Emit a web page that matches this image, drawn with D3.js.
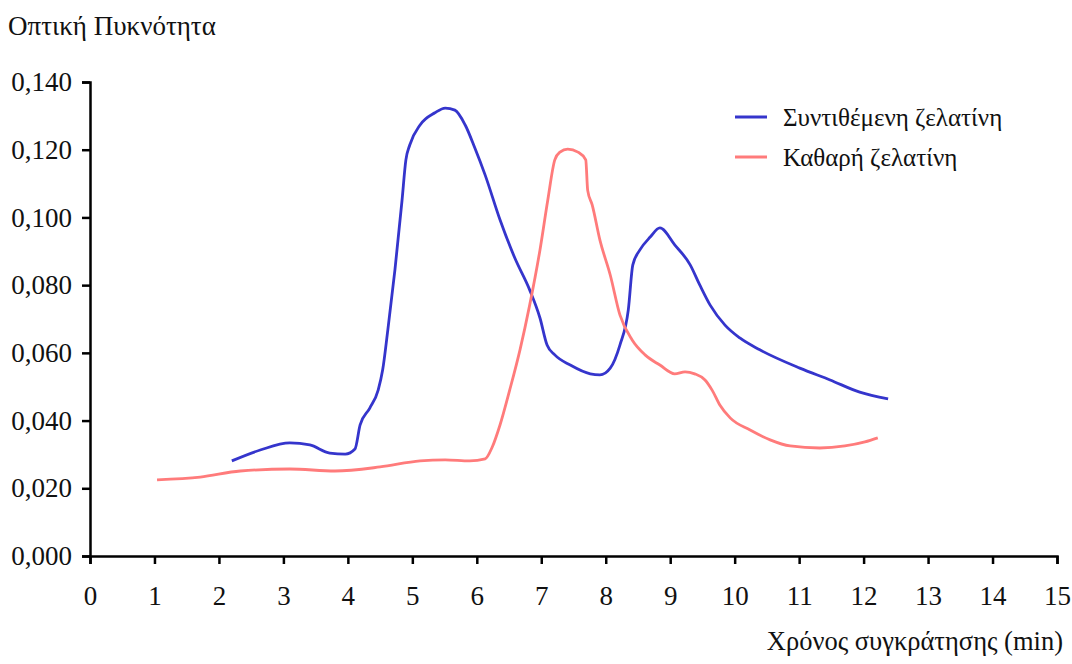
<!DOCTYPE html>
<html>
<head>
<meta charset="utf-8">
<script src="https://cdn.jsdelivr.net/npm/d3@7"></script>
<style>
  body { margin: 0; background: #fff; }
  svg text { font-family: "Liberation Serif", "Times New Roman", Times, serif !important; fill: #111; }
</style>
</head>
<body>
<script>
const width = 1072;
const height = 664;

// time (min) and optical density for the two samples
var synthT = [2.20, 2.64, 3.10, 3.41, 3.72, 3.96, 4.11, 4.19, 4.34, 4.47, 4.54, 4.62, 4.73, 4.84, 4.90, 4.96, 5.12, 5.35, 5.51, 5.66, 5.82, 5.97, 6.13, 6.36, 6.59, 6.82, 6.98, 7.09, 7.21, 7.45, 7.76, 7.91, 8.07, 8.22, 8.35, 8.42, 8.53, 8.69, 8.84, 9.07, 9.31, 9.46, 9.62, 9.85, 10.08, 10.39, 11.01, 11.48, 11.94, 12.38];
var synthV = [0.0281, 0.0313, 0.0334, 0.0328, 0.0304, 0.0301, 0.0316, 0.0387, 0.0437, 0.0490, 0.0550, 0.0668, 0.0845, 0.1050, 0.1170, 0.1214, 0.1273, 0.1309, 0.1323, 0.1317, 0.1273, 0.1205, 0.1125, 0.0993, 0.0880, 0.0786, 0.0703, 0.0623, 0.0594, 0.0564, 0.0538, 0.0535, 0.0555, 0.0623, 0.0727, 0.0860, 0.0904, 0.0942, 0.0969, 0.0919, 0.0860, 0.0800, 0.0741, 0.0682, 0.0644, 0.0609, 0.0555, 0.0520, 0.0484, 0.0464];

var pureT = [1.04, 1.71, 2.33, 3.10, 3.80, 4.50, 5.12, 5.51, 5.89, 6.13, 6.24, 6.36, 6.51, 6.67, 6.82, 6.98, 7.10, 7.21, 7.29, 7.41, 7.57, 7.69, 7.72, 7.79, 7.91, 8.07, 8.22, 8.41, 8.61, 8.84, 9.07, 9.23, 9.38, 9.54, 9.65, 9.77, 9.93, 10.24, 10.55, 10.86, 11.32, 11.71, 12.02, 12.22];
var pureV = [0.0225, 0.0233, 0.0251, 0.0257, 0.0251, 0.0263, 0.0281, 0.0284, 0.0281, 0.0287, 0.0322, 0.0387, 0.0490, 0.0609, 0.0741, 0.0904, 0.1050, 0.1170, 0.1193, 0.1202, 0.1193, 0.1170, 0.1080, 0.1037, 0.0933, 0.0830, 0.0712, 0.0638, 0.0594, 0.0564, 0.0538, 0.0544, 0.0538, 0.0520, 0.0490, 0.0446, 0.0408, 0.0372, 0.0343, 0.0325, 0.0319, 0.0325, 0.0337, 0.0349];

var xTicks = d3.range(0, 16);
var yTicks = [0, 0.02, 0.04, 0.06, 0.08, 0.10, 0.12, 0.14];
var seriesNames = ["Συντιθέμενη ζελατίνη", "Καθαρή ζελατίνη"];
var colors = ["#3535cc", "#ff7b7b"];

var svg = d3.select("body").append("svg")
  .attr("width", width)
  .attr("height", height);

var x = d3.scaleLinear().domain([0, 15]).range([90, 1057]);
var y = d3.scaleLinear().domain([0, 0.14]).range([556, 82]);

var fmt = function(d) { return d3.format(".3f")(d).replace(".", ","); };

var xAxis = svg.append("g")
  .attr("transform", "translate(0," + y(0) + ")")
  .call(d3.axisBottom(x).tickValues(xTicks).tickSize(8).tickPadding(22).tickFormat(d3.format("d")));

var yAxis = svg.append("g")
  .attr("transform", "translate(" + x(0) + ",0)")
  .call(d3.axisLeft(y).tickValues(yTicks).tickSize(8).tickPadding(10).tickFormat(fmt));

[xAxis, yAxis].forEach(function(a) {
  a.attr("font-family", null).attr("font-size", null);
  a.select(".domain").attr("stroke", "#000").attr("stroke-width", 2.5);
  a.selectAll(".tick line").attr("stroke", "#000").attr("stroke-width", 2.5);
  a.selectAll(".tick text").style("font-size", "27px").attr("fill", "#111");
});

var line = d3.line()
  .x(function(d) { return x(d[0]); })
  .y(function(d) { return y(d[1]); })
  .curve(d3.curveMonotoneX);

var series = [d3.zip(synthT, synthV), d3.zip(pureT, pureV)];

series.forEach(function(s, i) {
  svg.append("path")
    .attr("d", line(s))
    .attr("fill", "none")
    .attr("stroke", colors[i])
    .attr("stroke-width", 2.8)
    .attr("stroke-linejoin", "round");
});

// legend
var legend = svg.append("g").attr("transform", "translate(735,117)");
seriesNames.forEach(function(name, i) {
  var g = legend.append("g").attr("transform", "translate(0," + i * 40 + ")");
  g.append("line").attr("x1", 0).attr("x2", 32).attr("y1", 0).attr("y2", 0)
    .attr("stroke", colors[i]).attr("stroke-width", 3);
  g.append("text").attr("x", 48).attr("y", 9).style("font-size", "25px").text(name);
});

svg.append("text").attr("x", 8).attr("y", 35).style("font-size", "27px").text("Οπτική Πυκνότητα");
svg.append("text").attr("x", 1063).attr("y", 650).attr("text-anchor", "end")
  .style("font-size", "26.5px").text("Χρόνος συγκράτησης (min)");
</script>
</body>
</html>
